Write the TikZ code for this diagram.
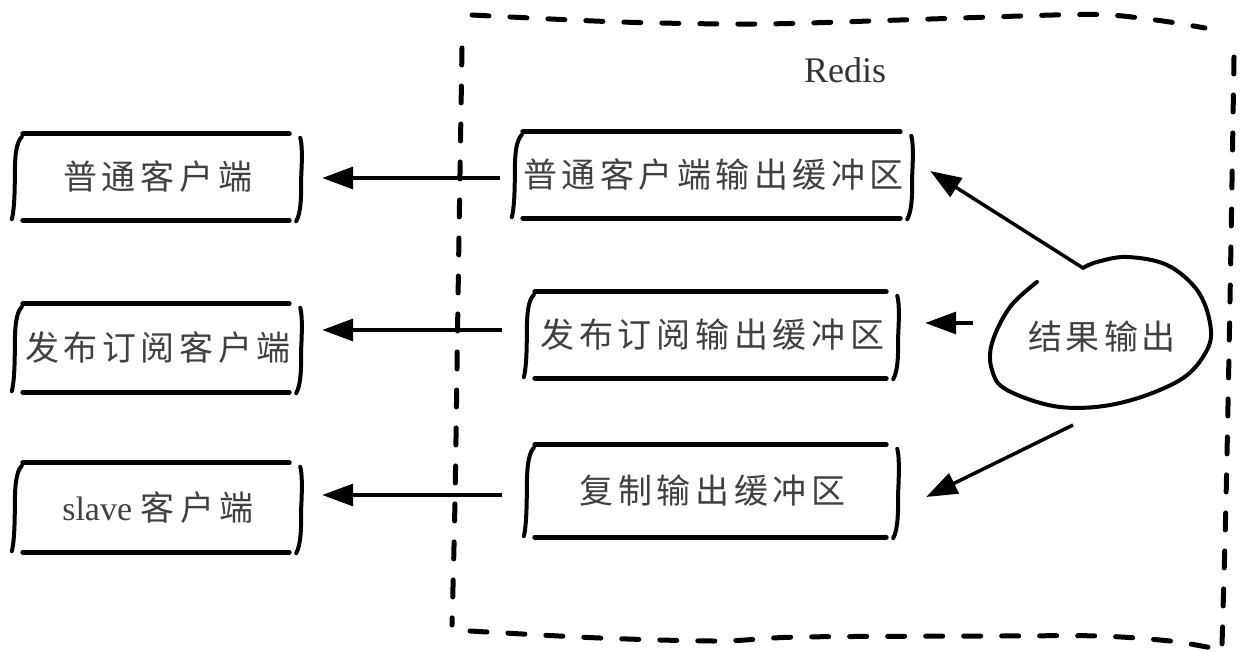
\documentclass[tikz,border=0pt]{standalone}
\usepackage{fontspec}
\setmainfont{Liberation Serif}
\newfontfamily\cjkfont{Noto Sans CJK SC}
\usetikzlibrary{arrows.meta,calc}
\ExplSyntaxOn
\NewDocumentCommand\cjkls{mm}{ \hbox~to~#1{ \cjkfont \hfilneg \tl_map_inline:nn {#2} { \hfil ##1 } } }
\ExplSyntaxOff
\newcommand\skbox[1]{%
  \draw[bxline] ($(#1.north west)+(8,0)$) -- ($(#1.north east)+(-12,0)$);
  \draw[bxline] ($(#1.south west)+(8,0)$) -- ($(#1.south east)+(-12,0)$);
  \draw[brk] ($(#1.north west)+(7,3)$) .. controls ($(#1.north west)+(1,9)$) and ($(#1.west)+(0,-20)$) .. (#1.west)
     .. controls ($(#1.west)+(0,20)$) and ($(#1.south west)+(-1,-8)$) .. ($(#1.south west)+(-3,-1)$);
  \draw[brk] ($(#1.north east)+(-1,4)$) .. controls ($(#1.north east)+(1,10)$) and ($(#1.east)+(1,-20)$) .. (#1.east)
     .. controls ($(#1.east)+(0,20)$) and ($(#1.south east)+(0,-8)$) .. ($(#1.south east)+(-5,1)$);
}
\begin{document}
\begin{tikzpicture}[x=1pt,y=-1pt,
  bx/.style={inner sep=0pt, text=black!75, font=\fontsize{34pt}{38pt}\selectfont},
  bxline/.style={line width=5pt, line cap=round},
  brk/.style={line width=4pt, line cap=round},
  arr/.style={line width=3.5pt, -{Triangle[length=31pt,width=22pt]}},
  frame/.style={line width=5pt, dash pattern=on 17pt off 21pt, line cap=round},
  cloudline/.style={line width=4pt, line cap=round}]
\useasboundingbox (0,0) rectangle (1242,652);

% dashed Redis frame
\draw[frame] plot[smooth] coordinates {(472,15) (620,22) (760,24) (900,20) (1054,15) (1110,15) (1163,21) (1205,28)};
\draw[frame] plot[smooth] coordinates {(1234,57) (1230,300) (1226,500) (1222,645)};
\draw[frame] plot[smooth] coordinates {(462,48) (458,300) (455,500) (452,625)};
\draw[frame] plot[smooth] coordinates {(470,631) (600,638) (720,641) (800,637) (1000,636) (1100,636) (1170,641) (1212,648)};

\node[font=\fontsize{36pt}{40pt}\selectfont, text=black!80] (redis) at (845,70) {Redis};

% client boxes
\node[bx, minimum width=286pt, minimum height=86pt] (L1) at (158,177) {\cjkls{190pt}{普通客户端}};
\node[bx, minimum width=286pt, minimum height=88pt] (L2) at (158,348) {\raisebox{-3pt}{\cjkls{266pt}{发布订阅客户端}}};
\node[bx, minimum width=286pt, minimum height=89pt] (L3) at (158,507.5) {\raisebox{-4pt}{slave \cjkls{113pt}{客户端}}};
\skbox{L1}\skbox{L2}\skbox{L3}

% buffer boxes
\node[bx, minimum width=397pt, minimum height=86pt] (A) at (713.5,175) {\cjkls{380pt}{普通客户端输出缓冲区}};
\node[bx, minimum width=371pt, minimum height=86pt] (B) at (712.5,335) {\raisebox{-3pt}{\cjkls{344pt}{发布订阅输出缓冲区}}};
\node[bx, minimum width=371pt, minimum height=92pt] (C) at (712.5,491) {\cjkls{266pt}{复制输出缓冲区}};
\skbox{A}\skbox{B}\skbox{C}

% result cloud
\node[bx] (cloud) at (1102,337) {\cjkls{148pt}{结果输出}};
\draw[cloudline] plot[smooth, tension=0.6] coordinates {(1037,282) (1010,307) (992,343) (992,370) (1007,390) (1060,407) (1120,403) (1180,380) (1207,350) (1210,323) (1197,290) (1167,265) (1127,257) (1097,262) (1083,268)};
\coordinate (ctop) at (1083,268);
\coordinate (cmid) at (973,323);
\coordinate (clow) at (1073,425);

% arrows
\draw[arr] (ctop) -- ($(A.east)+(18,-4)$);
\draw[arr] (cmid) -- ($(B.east)+(27,-12)$);
\draw[arr] (clow) -- ($(C.east)+(28,6)$);
\draw[arr] ($(A.west)+(-15,3)$) -- ($(L1.east)+(21,1)$);
\draw[arr] ($(B.west)+(-25,-5)$) -- ($(L2.east)+(21,-18)$);
\draw[arr] ($(C.west)+(-25,4)$) -- ($(L3.east)+(21,-12.5)$);
\end{tikzpicture}
\end{document}
